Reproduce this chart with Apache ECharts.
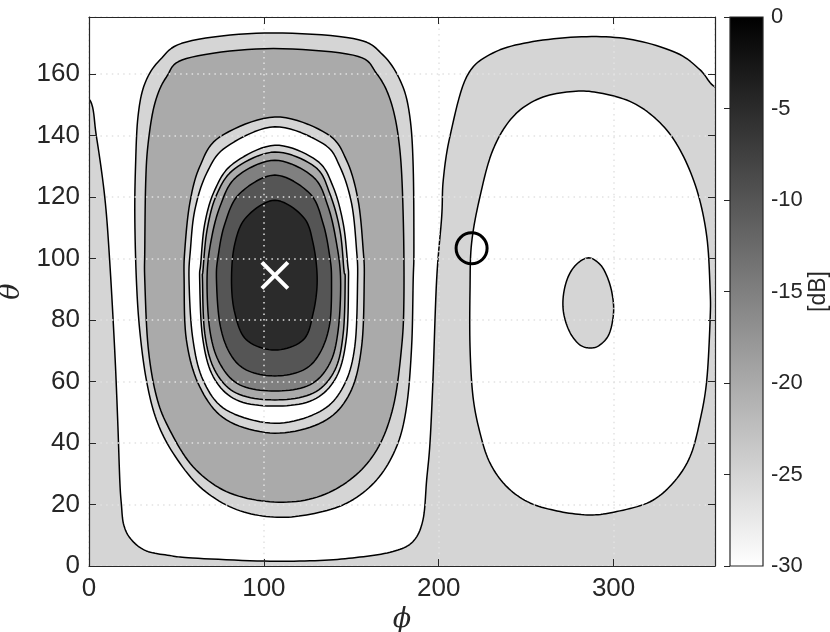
<!DOCTYPE html>
<html>
<head>
<meta charset="utf-8">
<script src="https://cdn.jsdelivr.net/npm/echarts@6/dist/echarts.min.js"></script>
<style>
  html, body { margin: 0; padding: 0; background: #fff; }
  #chart { width: 830px; height: 632px; }
</style>
</head>
<body>
<div id="chart"></div>
<script>
// axis ranges / ticks
const phiRange = [0, 358];
const thetaRange = [0, 178.5];
const dbRange = [-30, 0];

// contour outlines, [phi, theta]
// -30 dB boundary running from the left edge, round the bottom, over the top arch to the right edge
const lowBound = [
  [0, 151.9], [4.2, 139.8], [9.0, 120.0], [11.8, 99.5], [14.7, 70.2], [16.4, 47.5],
  [17.6, 28.0], [18.5, 20.2], [19.9, 13.3], [24.3, 8.5], [32.8, 4.9], [46.2, 3.4],
  [59.3, 2.6], [100.0, 1.6], [132.0, 1.8], [154.9, 2.9], [173.8, 4.7], [185.2, 7.9],
  [191.0, 15.0], [193.1, 28.0], [195.0, 40.0], [196.7, 60.5], [198.8, 93.0],
  [201.7, 113.6], [202.6, 125.5], [206.4, 139.6], [216.0, 159.1], [231.0, 166.8],
  [253.9, 170.5], [284.6, 172.1], [311.1, 171.1], [336.1, 166.8], [349.5, 161.3],
  [358.0, 155.8]
];
// big rounded block round the main lobe
const blockOuter = [
  [100.5, 173.3], [151.1, 171.5], [168.2, 166.1], [178.8, 156.8], [183.5, 146.0],
  [185.4, 129.8], [185.8, 102.8], [185.4, 93.0], [184.5, 71.3], [181.6, 51.8],
  [175.9, 38.8], [164.5, 28.0], [147.3, 20.4], [124.4, 16.6], [103.4, 16.0],
  [82.4, 18.8], [63.3, 25.8], [48.1, 36.7], [38.6, 47.5], [32.8, 60.5], [29.0, 76.7],
  [27.1, 93.0], [26.2, 113.5], [26.6, 129.8], [28.0, 146.0], [31.9, 156.8],
  [40.5, 164.5], [55.7, 170.4]
];
const blockInner = [
  [100.5, 168.2], [151.1, 166.1], [164.5, 160.1], [173.0, 150.3], [177.8, 135.2],
  [179.7, 113.5], [180.1, 87.5], [178.8, 71.3], [174.0, 51.8], [164.5, 37.7],
  [149.2, 28.0], [128.2, 22.0], [103.4, 20.9], [78.6, 24.2], [59.5, 32.3],
  [46.2, 44.2], [38.6, 55.1], [33.8, 71.3], [31.9, 93.0], [31.9, 102.8],
  [32.4, 124.3], [33.8, 137.3], [37.6, 150.3], [44.3, 159.0], [55.7, 165.0]
];
// nested ovals round the main lobe, outermost first
const oval1 = [
  [106.3, 146.0], [135.9, 140.6], [147.3, 131.9], [153.9, 118.9], [156.8, 102.8],
  [157.4, 93.0], [155.9, 71.3], [149.2, 56.2], [133.9, 46.9], [106.3, 43.2],
  [78.6, 47.5], [63.3, 58.3], [55.7, 73.5], [54.4, 93.0], [54.8, 102.8],
  [57.6, 117.8], [63.3, 129.8], [74.8, 139.5]
];
const oval2 = [
  [106.3, 142.8], [133.9, 137.3], [143.5, 129.8], [150.2, 117.8], [153.0, 102.8],
  [153.6, 93.0], [152.0, 71.3], [145.4, 58.3], [132.0, 50.2], [106.3, 46.4],
  [78.6, 50.7], [65.2, 60.5], [59.2, 74.6], [57.2, 93.0], [58.0, 102.8],
  [60.5, 115.7], [67.2, 127.6], [78.6, 136.3]
];
const oval3 = [
  [106.3, 136.8], [130.1, 131.9], [139.6, 123.3], [145.4, 111.3], [147.9, 98.3],
  [148.4, 93.0], [147.3, 74.6], [141.6, 61.6], [128.2, 54.0], [106.3, 52.0],
  [84.3, 54.0], [71.0, 61.6], [64.9, 74.6], [63.3, 93.0], [63.9, 98.3],
  [66.2, 111.3], [71.9, 122.2], [82.4, 130.8]
];
const oval4 = [
  [106.3, 134.6], [129.2, 129.8], [137.7, 121.1], [143.5, 109.2], [145.8, 96.2],
  [146.5, 93.0], [145.4, 75.7], [140.6, 63.7], [128.2, 56.2], [106.3, 54.0],
  [84.3, 56.2], [71.9, 63.7], [66.2, 75.7], [64.9, 93.0], [65.2, 96.2],
  [67.5, 109.2], [72.9, 120.6], [83.4, 129.2]
];
const oval5 = [
  [106.3, 131.9], [128.2, 126.5], [136.8, 116.7], [141.6, 104.8], [143.9, 93.0],
  [142.5, 76.7], [137.7, 65.9], [126.3, 58.9], [106.3, 56.9], [86.2, 58.9],
  [74.8, 65.9], [69.1, 76.7], [67.5, 93.0], [69.5, 104.8], [74.8, 116.7], [84.3, 126.5]
];
const oval6 = [
  [106.3, 127.1], [126.3, 121.1], [133.9, 111.3], [137.7, 100.5], [138.7, 93.0],
  [137.7, 78.9], [132.0, 69.2], [122.5, 63.7], [106.3, 61.8], [90.1, 63.7],
  [80.5, 69.2], [74.8, 78.9], [72.9, 93.0], [73.8, 100.5], [77.7, 111.3], [86.2, 121.1]
];
const oval7 = [
  [106.3, 118.9], [122.5, 113.5], [128.2, 104.8], [130.5, 93.0], [128.2, 82.2],
  [122.5, 73.5], [106.3, 70.2], [90.1, 73.5], [83.4, 82.2], [81.5, 93.0],
  [83.4, 104.8], [90.1, 113.5]
];
// right-hand null region and the small island inside it
const rightNull = [
  [217.9, 89.8], [218.8, 105.0], [223.6, 120.1], [231.0, 135.3], [242.5, 146.1],
  [257.9, 152.1], [276.8, 154.3], [292.2, 153.8], [311.1, 150.6], [326.6, 144.1],
  [338.0, 135.3], [347.6, 122.3], [353.3, 107.1], [355.2, 89.8], [355.2, 80.0],
  [353.3, 60.5], [349.5, 47.5], [343.7, 35.5], [334.0, 27.0], [320.9, 20.9],
  [301.8, 17.7], [286.5, 16.6], [269.4, 17.7], [252.2, 20.5], [238.9, 25.8],
  [229.3, 33.5], [223.6, 43.3], [219.6, 55.1], [217.9, 71.3]
];
const rightIsland = [
  [285.8, 100.2], [292.0, 98.2], [296.0, 94.5], [299.0, 89.0], [300.0, 82.5],
  [297.5, 75.5], [292.0, 71.8], [286.5, 70.9], [280.5, 72.0], [275.0, 76.0],
  [271.5, 82.0], [271.3, 88.0], [274.0, 94.0], [279.0, 98.2]
];

// markers
const peakPoint = [[106.3, 94.5]];
const probePoint = [[218.8, 103.3]];

// fill level (dB) of each region, in drawing order
const layers = [
  { pts: lowBound, level: -30, open: true },
  { pts: blockOuter, level: -25 },
  { pts: blockInner, level: -20 },
  { pts: oval1, level: -25 },
  { pts: oval2, level: -30 },
  { pts: oval3, level: -25 },
  { pts: oval4, level: -20 },
  { pts: oval5, level: -15 },
  { pts: oval6, level: -10 },
  { pts: oval7, level: -5 },
  { pts: rightNull, level: -30 },
  { pts: rightIsland, level: -25 }
];

function levelColor(v) {
  const g = Math.round(255 * (dbRange[1] - v) / (dbRange[1] - dbRange[0]));
  return 'rgb(' + g + ',' + g + ',' + g + ')';
}

// closed Catmull-Rom outline through the projected pixel points (drawing only)
function smoothRing(p, steps) {
  const n = p.length, out = [];
  for (let i = 0; i < n; i++) {
    const a = p[(i - 1 + n) % n], b = p[i], c = p[(i + 1) % n], d = p[(i + 2) % n];
    for (let s = 0; s < steps; s++) {
      const t = s / steps, t2 = t * t, t3 = t2 * t;
      const q = [0, 1].map(function (k) {
        return 0.5 * (2 * b[k] + (c[k] - a[k]) * t + (2 * a[k] - 5 * b[k] + 4 * c[k] - d[k]) * t2 + (3 * b[k] - a[k] - 3 * c[k] + d[k]) * t3);
      });
      out.push(q);
    }
  }
  return out;
}

const axisColor = '#262626';
const labelFont = { fontFamily: 'Liberation Sans', fontSize: 26, color: axisColor };

const myChart = echarts.init(document.getElementById('chart'));
myChart.setOption({
  animation: false,
  grid: [
    { left: 89, top: 17, width: 626, height: 549, show: true, backgroundColor: levelColor(-25), borderWidth: 0, containLabel: false, outerBoundsMode: 'none' },
    { left: 730, top: 17, width: 33, height: 549, containLabel: false, outerBoundsMode: 'none' }
  ],
  xAxis: [
    {
      gridIndex: 0, type: 'value', position: 'bottom', z: 3,
      min: phiRange[0], max: phiRange[1], interval: 100,
      axisLine: { show: true, onZero: false, lineStyle: { color: axisColor, width: 1.2 } },
      axisTick: { show: true, inside: true, length: 7, lineStyle: { color: axisColor } },
      axisLabel: Object.assign({ margin: 10, showMaxLabel: false }, labelFont),
      splitLine: { show: true, lineStyle: { color: '#e2e2e2', width: 1.5, type: [1.5, 4.2] } },
      name: 'ϕ', nameLocation: 'middle', nameGap: 28,
      nameTextStyle: { fontFamily: 'DejaVu Serif', fontStyle: 'italic', fontSize: 27, color: axisColor }
    },
    {
      gridIndex: 0, type: 'value', position: 'top', z: 3,
      min: phiRange[0], max: phiRange[1], interval: 100,
      axisLine: { show: true, onZero: false, lineStyle: { color: axisColor, width: 1.2 } },
      axisTick: { show: true, inside: true, length: 7, lineStyle: { color: axisColor } },
      axisLabel: { show: false },
      splitLine: { show: false }
    },
    { gridIndex: 1, type: 'value', min: 0, max: 1, show: false }
  ],
  yAxis: [
    {
      gridIndex: 0, type: 'value', position: 'left', z: 3,
      min: thetaRange[0], max: thetaRange[1], interval: 20,
      axisLine: { show: true, onZero: false, lineStyle: { color: axisColor, width: 1.2 } },
      axisTick: { show: true, inside: true, length: 7, lineStyle: { color: axisColor } },
      axisLabel: Object.assign({ margin: 9, showMaxLabel: false }, labelFont),
      splitLine: { show: true, lineStyle: { color: '#e2e2e2', width: 1.5, type: [1.5, 4.2] } },
      name: 'θ', nameLocation: 'middle', nameGap: 62, nameRotate: 90,
      nameTextStyle: { fontFamily: 'DejaVu Serif', fontStyle: 'italic', fontSize: 27, color: axisColor }
    },
    {
      gridIndex: 0, type: 'value', position: 'right', z: 3,
      min: thetaRange[0], max: thetaRange[1], interval: 20,
      axisLine: { show: true, onZero: false, lineStyle: { color: axisColor, width: 1.2 } },
      axisTick: { show: true, inside: true, length: 7, lineStyle: { color: axisColor } },
      axisLabel: { show: false },
      splitLine: { show: false }
    },
    {
      gridIndex: 1, type: 'value', position: 'right', z: 3,
      min: dbRange[0], max: dbRange[1], interval: 5,
      axisLine: { show: false },
      axisTick: { show: true, inside: true, length: 6, lineStyle: { color: axisColor } },
      axisLabel: { margin: 8, fontFamily: 'Liberation Sans', fontSize: 22, color: axisColor },
      splitLine: { show: false },
      name: '[dB]', nameLocation: 'middle', nameGap: 42, nameRotate: 90,
      nameTextStyle: { fontFamily: 'Liberation Sans', fontSize: 23, color: axisColor }
    }
  ],
  series: [
    {
      type: 'custom',
      xAxisIndex: 0, yAxisIndex: 0,
      clip: true,
      z: 2,
      data: layers.map(function (l, i) { return [i]; }),
      encode: { x: -1, y: -1 },
      renderItem: function (params, api) {
        const layer = layers[params.dataIndex];
        let pts = layer.pts;
        if (layer.open) {
          // close the region outside the plot box; the clip hides that part
          const first = pts[0], last = pts[pts.length - 1];
          pts = [[first[0] - 15, first[1] + 2]].concat(pts, [[last[0] + 15, last[1] - 2], [last[0] + 15, 215], [first[0] - 15, 215]]);
        }
        const px = pts.map(function (p) { return api.coord(p); });
        return {
          type: 'polygon',
          shape: { points: smoothRing(px, 10) },
          style: { fill: levelColor(layer.level), stroke: '#000', lineWidth: 1.5, lineJoin: 'round' }
        };
      }
    },
    {
      type: 'scatter',
      xAxisIndex: 0, yAxisIndex: 0,
      z: 5,
      data: peakPoint,
      symbol: 'path://M0,0L20,20M20,0L0,20',
      symbolSize: 26,
      itemStyle: { color: 'rgba(0,0,0,0)', borderColor: '#fff', borderWidth: 4, opacity: 1 }
    },
    {
      type: 'scatter',
      xAxisIndex: 0, yAxisIndex: 0,
      z: 5,
      data: probePoint,
      symbol: 'circle',
      symbolSize: 31,
      itemStyle: { color: 'rgba(0,0,0,0)', borderColor: '#000', borderWidth: 3, opacity: 1 }
    },
    {
      type: 'custom',
      xAxisIndex: 2, yAxisIndex: 2,
      z: 2,
      data: [[0]],
      encode: { x: -1, y: -1 },
      renderItem: function (params, api) {
        const p0 = api.coord([0, dbRange[1]]);
        const p1 = api.coord([1, dbRange[0]]);
        return {
          type: 'rect',
          shape: { x: p0[0], y: p0[1], width: p1[0] - p0[0], height: p1[1] - p0[1] },
          style: {
            fill: new echarts.graphic.LinearGradient(0, 0, 0, 1, [
              { offset: 0, color: levelColor(dbRange[1]) },
              { offset: 1, color: levelColor(dbRange[0]) }
            ]),
            stroke: axisColor, lineWidth: 1.2
          }
        };
      }
    }
  ]
});
</script>
</body>
</html>
